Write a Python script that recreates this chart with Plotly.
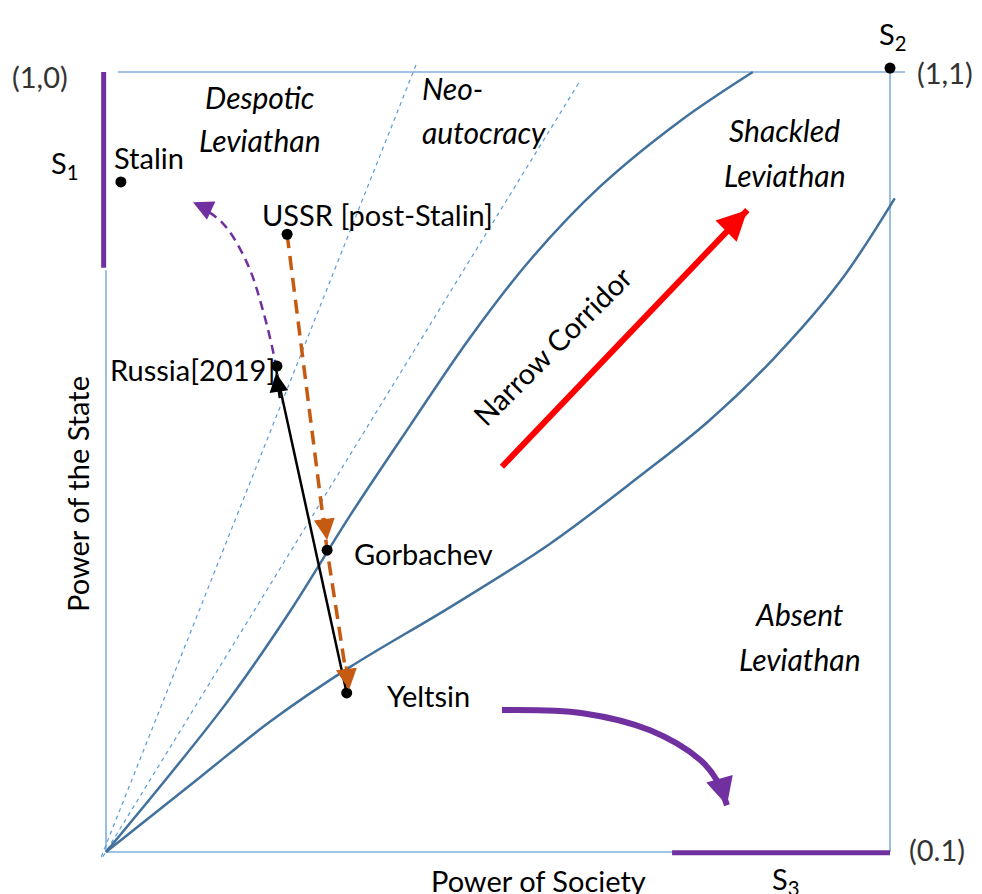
import plotly.graph_objects as go

# ---------------- data (unit square: x = power of society, y = power of the state)
curveA_x = [0.000, 0.082, 0.158, 0.235, 0.311, 0.388, 0.464, 0.541, 0.630, 0.732, 0.825]
curveA_y = [0.000, 0.100, 0.197, 0.309, 0.431, 0.547, 0.659, 0.759, 0.853, 0.937, 1.000]
curveB_x = [0.000, 0.120, 0.209, 0.311, 0.439, 0.566, 0.681, 0.767, 0.851, 0.936, 1.006]
curveB_y = [0.000, 0.096, 0.167, 0.237, 0.314, 0.395, 0.482, 0.551, 0.632, 0.731, 0.838]
guide1_x = [-0.006, 0.397]
guide1_y = [-0.006, 1.013]
guide2_x = [-0.004, 0.603]
guide2_y = [-0.006, 0.986]

state_names = ["Stalin", "USSR [post-Stalin]", "Russia[2019]", "Gorbachev", "Yeltsin", "S2"]
state_x = [0.019, 0.231, 0.218, 0.282, 0.307, 1.000]
state_y = [0.859, 0.792, 0.623, 0.387, 0.204, 1.005]

orange_x = [0.231, 0.282, 0.310]
orange_y = [0.792, 0.387, 0.204]
black_x = [0.307, 0.217]
black_y = [0.204, 0.618]
purple_up_x = [0.219, 0.216, 0.200, 0.180, 0.149, 0.111]
purple_up_y = [0.601, 0.627, 0.695, 0.755, 0.806, 0.833]
purple_down_x = [0.505, 0.608, 0.694, 0.758, 0.779, 0.792]
purple_down_y = [0.182, 0.178, 0.156, 0.118, 0.092, 0.060]
red_x = [0.505, 0.818]
red_y = [0.494, 0.823]

S1_x = [-0.003, -0.003]
S1_y = [0.749, 1.000]
S3_x = [0.722, 1.000]
S3_y = [-0.001, -0.001]

BOX = "#7FAEDC"
GUIDE = "#5B9BD5"
CURVE = "#41719C"
PURPLE = "#7030A0"
ORANGE = "#C55A11"
FONT = "Lato"

fig = go.Figure()

def line(x, y, color, width, dash="solid", shape="linear"):
    fig.add_trace(go.Scatter(x=x, y=y, mode="lines", hoverinfo="skip",
                             line=dict(color=color, width=width, dash=dash, shape=shape)))

# box
line([0.015, 1.019], [1, 1], BOX, 1.6)
line([1, 1], [0, 1], BOX, 1.6)
line([0, 1], [0, 0], BOX, 1.6)
line([0, 0], [0, 0.746], BOX, 1.6)
# guide lines
line(guide1_x, guide1_y, GUIDE, 1.2, dash="4px,4px")
line(guide2_x, guide2_y, GUIDE, 1.2, dash="4px,4px")
# corridor curves
line(curveA_x, curveA_y, CURVE, 2.5, shape="spline")
line(curveB_x, curveB_y, CURVE, 2.5, shape="spline")
# S bars
line(S1_x, S1_y, PURPLE, 5)
line(S3_x, S3_y, PURPLE, 5)
# trajectories
line(orange_x, orange_y, ORANGE, 3.5, dash="14px,8px")
line(black_x, black_y, "black", 2.5)
line(purple_up_x, purple_up_y, PURPLE, 2.5, dash="9px,6px", shape="spline")
line(purple_down_x, purple_down_y, PURPLE, 6, shape="spline")
line(red_x, red_y, "red", 6)

# points
fig.add_trace(go.Scatter(x=state_x, y=state_y, mode="markers", hoverinfo="skip",
                         marker=dict(color="black", size=11)))

def head(x0, y0, x1, y1, color, width, size):
    fig.add_annotation(x=x1, y=y1, ax=x0, ay=y0, xref="x", yref="y", axref="x", ayref="y",
                       text="", showarrow=True, arrowhead=2, arrowsize=size,
                       arrowwidth=width, arrowcolor=color, standoff=0)

# arrowheads
head(0.278, 0.43, 0.282, 0.400, ORANGE, 3, 1.4)
head(0.306, 0.24, 0.310, 0.208, ORANGE, 3, 1.4)
head(0.222, 0.58, 0.217, 0.614, "black", 2.5, 1.5)
head(0.126, 0.826, 0.111, 0.833, PURPLE, 2.5, 1.6)
head(0.785, 0.085, 0.792, 0.060, PURPLE, 5, 1.1)
head(0.790, 0.795, 0.818, 0.823, "red", 6, 1.0)

def text(x, y, s, size=29, italic=False, anchor="center", angle=0, color="black"):
    fig.add_annotation(x=x, y=y, xref="x", yref="y", text=s, showarrow=False,
                       xanchor=anchor, yanchor="middle", textangle=angle,
                       font=dict(family=FONT, size=size, color=color,
                                 style="italic" if italic else "normal"))

text(0.196, 0.968, "Despotic", size=30, italic=True)
text(0.196, 0.913, "Leviathan", size=30, italic=True)
text(0.401, 0.979, "Neo-", size=30, italic=True, anchor="left")
text(0.401, 0.923, "autocracy", size=30, italic=True, anchor="left")
text(0.866, 0.926, "Shackled", size=30, italic=True)
text(0.866, 0.868, "Leviathan", size=30, italic=True)
text(0.885, 0.305, "Absent", size=30, italic=True)
text(0.885, 0.247, "Leviathan", size=30, italic=True)
text(0.569, 0.650, "Narrow Corridor", angle=-45)

text(0.008, 0.890, state_names[0], anchor="left")
text(0.196, 0.817, state_names[1], anchor="left")
text(0.218, 0.618, state_names[2], anchor="right")
text(0.314, 0.383, state_names[3], anchor="left")
text(0.356, 0.201, state_names[4], anchor="left")

text(0.551, -0.036, "Power of Society")
text(-0.037, 0.459, "Power of the State", angle=-90)
text(-0.084, 0.994, "(1,0)", color="#333333")
text(1.070, 1.000, "(1,1)", color="#333333")
text(1.060, 0.003, "(0.1)", color="#333333")
text(-0.052, 0.881, "S<sub>1</sub>")
text(1.004, 1.047, "S<sub>2</sub>")
text(0.867, -0.036, "S<sub>3</sub>")

fig.update_layout(
    width=982, height=894, margin=dict(l=0, r=0, t=0, b=0),
    paper_bgcolor="white", plot_bgcolor="white", showlegend=False,
    xaxis=dict(range=[-0.1352, 1.1173], visible=False, fixedrange=True),
    yaxis=dict(range=[-0.0538, 1.0923], visible=False, fixedrange=True),
)
fig.write_html("out.html", config={"displayModeBar": False},
               post_script="document.body.style.margin='0px';document.body.style.overflow='hidden';")
